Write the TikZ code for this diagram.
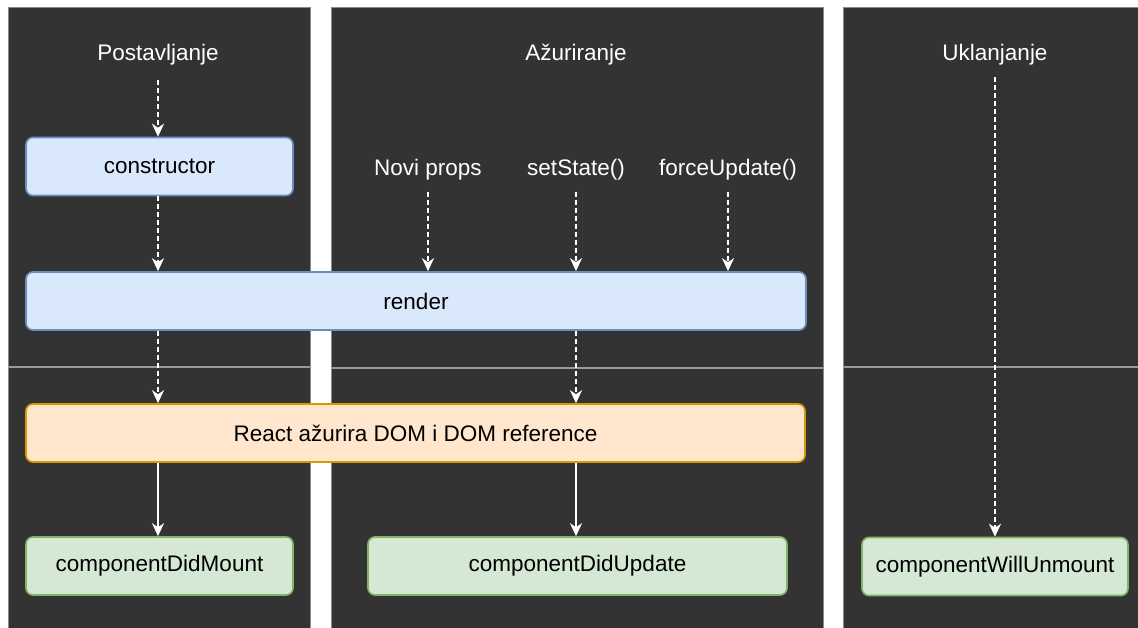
\documentclass[tikz,border=0pt]{standalone}
\usepackage{fontspec}
\setmainfont{Liberation Sans}
\usetikzlibrary{arrows.meta}
\definecolor{panelfill}{HTML}{333333}
\definecolor{panelline}{HTML}{8A8A8A}
\definecolor{sepline}{HTML}{9A9A9A}
\definecolor{bluefill}{HTML}{DAE8FC}
\definecolor{blueline}{HTML}{6C8EBF}
\definecolor{orfill}{HTML}{FFE6CC}
\definecolor{orline}{HTML}{D79B00}
\definecolor{grfill}{HTML}{D5E8D4}
\definecolor{grline}{HTML}{82B366}
\tikzset{
  panel/.style={fill=panelfill, draw=panelline, line width=1pt},
  box/.style={rounded corners=7pt, line width=1.6pt, inner sep=0pt, font=\fontsize{22.5}{26}\selectfont, text=black},
  bluebox/.style={box, fill=bluefill, draw=blueline},
  orbox/.style={box, fill=orfill, draw=orline},
  grbox/.style={box, fill=grfill, draw=grline},
  title/.style={text=white, font=\fontsize{22.5}{26}\selectfont, inner sep=0pt},
  conn/.style={draw=white, line width=1.6pt, -{Stealth[length=13pt, width=12pt, inset=4pt]}},
  dconn/.style={conn, dash pattern=on 5pt off 3pt},
}
\begin{document}
\begin{tikzpicture}[x=1pt, y=-1pt]
\useasboundingbox (0,0) rectangle (1138,627);
\fill[white] (0,0) rectangle (1138,627);
% panels
\draw[panel] (8,7) rectangle (310,640);
\draw[panel] (331,7) rectangle (823,640);
\draw[panel] (843,7) rectangle (1145,640);
% separator lines
\draw[sepline, line width=1.3pt] (8,367) -- (310,367);
\draw[sepline, line width=1.3pt] (331,368) -- (823,368);
\draw[sepline, line width=1.3pt] (843,367) -- (1138,367);
% titles
\node[title] (tmount) at (158,55) {Postavljanje};
\node[title] (tupdate) at (576,55) {Ažuriranje};
\node[title] (tunmount) at (995,55) {Uklanjanje};
\node[title] (props) at (428,170) {Novi props};
\node[title] (setstate) at (576,170) {setState()};
\node[title] (force) at (728,170) {forceUpdate()};
% boxes
\node[bluebox, minimum width=267pt, minimum height=58pt] (constructor) at (159.5,166.5) {constructor};
\node[bluebox, minimum width=780pt, minimum height=58pt] (render) at (416,301) {render};
\node[orbox, minimum width=779pt, minimum height=58pt] (dom) at (415.5,433) {React ažurira DOM i DOM reference};
\node[grbox, minimum width=267pt, minimum height=58pt] (didmount) at (159.5,566) {componentDidMount};
\node[grbox, minimum width=419pt, minimum height=58pt] (didupdate) at (577.5,566) {componentDidUpdate};
\node[grbox, minimum width=266pt, minimum height=58pt] (willunmount) at (995,566.5) {componentWillUnmount};
% connectors
\coordinate (m1) at (158,80);
\draw[dconn] (m1) -- (constructor.north -| m1);
\draw[dconn] (constructor.south -| m1) -- (render.north -| m1);
\draw[dconn] (props.south) ++(0,11) -- (render.north -| props.south);
\draw[dconn] (setstate.south) ++(0,11) -- (render.north -| setstate.south);
\draw[dconn] (force.south) ++(0,11) -- (render.north -| force.south);
\draw[dconn] (render.south -| m1) -- (dom.north -| m1);
\draw[dconn] (render.south -| setstate.south) -- (dom.north -| setstate.south);
\draw[conn] (dom.south -| m1) -- (didmount.north -| m1);
\draw[conn] (dom.south -| setstate.south) -- (didupdate.north -| setstate.south);
\draw[dconn] (tunmount.south) ++(0,11) -- (willunmount.north -| tunmount.south);
\end{tikzpicture}
\end{document}
